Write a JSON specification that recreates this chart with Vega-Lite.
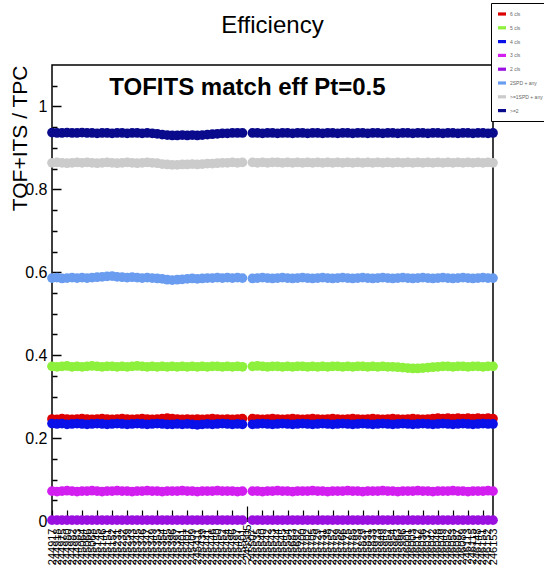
{
  "$schema": "https://vega.github.io/schema/vega-lite/v6.json",
  "autosize": "none",
  "width": 441,
  "height": 456,
  "padding": {"left": 52, "top": 65, "right": 51, "bottom": 47},
  "background": "white",
  "title": {
    "text": "Efficiency",
    "font": "Liberation Sans",
    "fontSize": 24,
    "fontWeight": "normal",
    "color": "black",
    "anchor": "middle",
    "offset": 0,
    "dy": 35
  },
  "config": {
    "view": {"stroke": "black", "strokeWidth": 1.5},
    "axis": {"grid": false, "domain": false}
  },
  "data": {
    "values": [
      {"run": "244917", "s1": 0.246, "s2": 0.373, "s3": 0.235, "s4": 0.072, "s5": 0.002, "s6": 0.586, "s7": 0.864, "s8": 0.937},
      {"run": "244918", "s1": 0.245, "s2": 0.372, "s3": 0.234, "s4": 0.071, "s5": 0.002, "s6": 0.587, "s7": 0.865, "s8": 0.936},
      {"run": "244975", "s1": 0.247, "s2": 0.373, "s3": 0.235, "s4": 0.072, "s5": 0.002, "s6": 0.585, "s7": 0.864, "s8": 0.936},
      {"run": "244980", "s1": 0.246, "s2": 0.374, "s3": 0.233, "s4": 0.073, "s5": 0.002, "s6": 0.586, "s7": 0.863, "s8": 0.937},
      {"run": "244982", "s1": 0.245, "s2": 0.372, "s3": 0.234, "s4": 0.072, "s5": 0.002, "s6": 0.587, "s7": 0.864, "s8": 0.936},
      {"run": "244983", "s1": 0.246, "s2": 0.373, "s3": 0.235, "s4": 0.071, "s5": 0.002, "s6": 0.586, "s7": 0.865, "s8": 0.936},
      {"run": "245064", "s1": 0.247, "s2": 0.372, "s3": 0.234, "s4": 0.072, "s5": 0.002, "s6": 0.587, "s7": 0.864, "s8": 0.937},
      {"run": "245066", "s1": 0.246, "s2": 0.373, "s3": 0.233, "s4": 0.072, "s5": 0.002, "s6": 0.586, "s7": 0.865, "s8": 0.936},
      {"run": "245068", "s1": 0.245, "s2": 0.374, "s3": 0.234, "s4": 0.073, "s5": 0.002, "s6": 0.587, "s7": 0.864, "s8": 0.936},
      {"run": "245145", "s1": 0.246, "s2": 0.373, "s3": 0.235, "s4": 0.072, "s5": 0.002, "s6": 0.588, "s7": 0.863, "s8": 0.935},
      {"run": "245146", "s1": 0.247, "s2": 0.372, "s3": 0.234, "s4": 0.071, "s5": 0.002, "s6": 0.589, "s7": 0.864, "s8": 0.936},
      {"run": "245151", "s1": 0.246, "s2": 0.373, "s3": 0.233, "s4": 0.072, "s5": 0.002, "s6": 0.590, "s7": 0.865, "s8": 0.936},
      {"run": "245152", "s1": 0.245, "s2": 0.373, "s3": 0.234, "s4": 0.072, "s5": 0.002, "s6": 0.591, "s7": 0.864, "s8": 0.935},
      {"run": "245231", "s1": 0.246, "s2": 0.372, "s3": 0.235, "s4": 0.073, "s5": 0.002, "s6": 0.589, "s7": 0.863, "s8": 0.936},
      {"run": "245232", "s1": 0.247, "s2": 0.373, "s3": 0.234, "s4": 0.072, "s5": 0.002, "s6": 0.588, "s7": 0.864, "s8": 0.936},
      {"run": "245259", "s1": 0.246, "s2": 0.372, "s3": 0.233, "s4": 0.072, "s5": 0.002, "s6": 0.587, "s7": 0.865, "s8": 0.935},
      {"run": "245343", "s1": 0.245, "s2": 0.373, "s3": 0.234, "s4": 0.071, "s5": 0.002, "s6": 0.588, "s7": 0.864, "s8": 0.936},
      {"run": "245345", "s1": 0.246, "s2": 0.374, "s3": 0.235, "s4": 0.072, "s5": 0.002, "s6": 0.587, "s7": 0.863, "s8": 0.936},
      {"run": "245346", "s1": 0.247, "s2": 0.373, "s3": 0.234, "s4": 0.072, "s5": 0.002, "s6": 0.586, "s7": 0.864, "s8": 0.935},
      {"run": "245347", "s1": 0.246, "s2": 0.372, "s3": 0.233, "s4": 0.073, "s5": 0.002, "s6": 0.587, "s7": 0.865, "s8": 0.936},
      {"run": "245349", "s1": 0.245, "s2": 0.373, "s3": 0.234, "s4": 0.072, "s5": 0.002, "s6": 0.586, "s7": 0.864, "s8": 0.935},
      {"run": "245353", "s1": 0.246, "s2": 0.372, "s3": 0.235, "s4": 0.072, "s5": 0.002, "s6": 0.585, "s7": 0.863, "s8": 0.934},
      {"run": "245354", "s1": 0.247, "s2": 0.373, "s3": 0.234, "s4": 0.071, "s5": 0.002, "s6": 0.584, "s7": 0.861, "s8": 0.932},
      {"run": "245355", "s1": 0.248, "s2": 0.372, "s3": 0.233, "s4": 0.072, "s5": 0.002, "s6": 0.582, "s7": 0.860, "s8": 0.931},
      {"run": "245396", "s1": 0.247, "s2": 0.373, "s3": 0.233, "s4": 0.072, "s5": 0.002, "s6": 0.581, "s7": 0.859, "s8": 0.930},
      {"run": "245397", "s1": 0.246, "s2": 0.372, "s3": 0.234, "s4": 0.072, "s5": 0.002, "s6": 0.582, "s7": 0.859, "s8": 0.930},
      {"run": "245401", "s1": 0.245, "s2": 0.373, "s3": 0.233, "s4": 0.073, "s5": 0.002, "s6": 0.583, "s7": 0.860, "s8": 0.931},
      {"run": "245407", "s1": 0.246, "s2": 0.372, "s3": 0.234, "s4": 0.072, "s5": 0.002, "s6": 0.584, "s7": 0.860, "s8": 0.930},
      {"run": "245409", "s1": 0.245, "s2": 0.373, "s3": 0.233, "s4": 0.072, "s5": 0.002, "s6": 0.585, "s7": 0.861, "s8": 0.931},
      {"run": "245411", "s1": 0.246, "s2": 0.372, "s3": 0.232, "s4": 0.071, "s5": 0.002, "s6": 0.584, "s7": 0.860, "s8": 0.930},
      {"run": "245439", "s1": 0.245, "s2": 0.373, "s3": 0.233, "s4": 0.072, "s5": 0.002, "s6": 0.585, "s7": 0.861, "s8": 0.931},
      {"run": "245441", "s1": 0.246, "s2": 0.372, "s3": 0.234, "s4": 0.072, "s5": 0.002, "s6": 0.586, "s7": 0.862, "s8": 0.932},
      {"run": "245446", "s1": 0.247, "s2": 0.373, "s3": 0.233, "s4": 0.072, "s5": 0.002, "s6": 0.586, "s7": 0.862, "s8": 0.933},
      {"run": "245450", "s1": 0.246, "s2": 0.373, "s3": 0.234, "s4": 0.073, "s5": 0.002, "s6": 0.587, "s7": 0.863, "s8": 0.934},
      {"run": "245452", "s1": 0.245, "s2": 0.372, "s3": 0.235, "s4": 0.072, "s5": 0.002, "s6": 0.586, "s7": 0.864, "s8": 0.935},
      {"run": "245454", "s1": 0.246, "s2": 0.373, "s3": 0.234, "s4": 0.072, "s5": 0.002, "s6": 0.587, "s7": 0.864, "s8": 0.935},
      {"run": "245496", "s1": 0.245, "s2": 0.372, "s3": 0.233, "s4": 0.072, "s5": 0.002, "s6": 0.586, "s7": 0.865, "s8": 0.936},
      {"run": "245497", "s1": 0.246, "s2": 0.373, "s3": 0.234, "s4": 0.071, "s5": 0.002, "s6": 0.587, "s7": 0.864, "s8": 0.936},
      {"run": "245501", "s1": 0.247, "s2": 0.372, "s3": 0.233, "s4": 0.072, "s5": 0.002, "s6": 0.586, "s7": 0.865, "s8": 0.936},
      {"run": "245504", "s1": null, "s2": null, "s3": null, "s4": null, "s5": null, "s6": null, "s7": null, "s8": null},
      {"run": "245505", "s1": null, "s2": null, "s3": null, "s4": null, "s5": null, "s6": null, "s7": null, "s8": null},
      {"run": "245507", "s1": 0.247, "s2": 0.373, "s3": 0.233, "s4": 0.072, "s5": 0.002, "s6": 0.585, "s7": 0.865, "s8": 0.936},
      {"run": "245535", "s1": 0.246, "s2": 0.374, "s3": 0.234, "s4": 0.072, "s5": 0.002, "s6": 0.586, "s7": 0.864, "s8": 0.936},
      {"run": "245540", "s1": 0.245, "s2": 0.373, "s3": 0.235, "s4": 0.071, "s5": 0.002, "s6": 0.587, "s7": 0.865, "s8": 0.935},
      {"run": "245542", "s1": 0.246, "s2": 0.372, "s3": 0.234, "s4": 0.072, "s5": 0.002, "s6": 0.586, "s7": 0.864, "s8": 0.936},
      {"run": "245543", "s1": 0.247, "s2": 0.373, "s3": 0.233, "s4": 0.072, "s5": 0.002, "s6": 0.585, "s7": 0.865, "s8": 0.936},
      {"run": "245544", "s1": 0.246, "s2": 0.373, "s3": 0.234, "s4": 0.073, "s5": 0.002, "s6": 0.586, "s7": 0.865, "s8": 0.935},
      {"run": "245545", "s1": 0.245, "s2": 0.372, "s3": 0.235, "s4": 0.072, "s5": 0.002, "s6": 0.587, "s7": 0.864, "s8": 0.936},
      {"run": "245554", "s1": 0.246, "s2": 0.373, "s3": 0.234, "s4": 0.072, "s5": 0.002, "s6": 0.586, "s7": 0.865, "s8": 0.936},
      {"run": "245683", "s1": 0.247, "s2": 0.372, "s3": 0.233, "s4": 0.071, "s5": 0.002, "s6": 0.585, "s7": 0.864, "s8": 0.935},
      {"run": "245692", "s1": 0.246, "s2": 0.373, "s3": 0.234, "s4": 0.072, "s5": 0.002, "s6": 0.586, "s7": 0.865, "s8": 0.936},
      {"run": "245700", "s1": 0.245, "s2": 0.373, "s3": 0.235, "s4": 0.072, "s5": 0.002, "s6": 0.587, "s7": 0.864, "s8": 0.936},
      {"run": "245702", "s1": 0.246, "s2": 0.372, "s3": 0.234, "s4": 0.072, "s5": 0.002, "s6": 0.586, "s7": 0.865, "s8": 0.935},
      {"run": "245705", "s1": 0.247, "s2": 0.373, "s3": 0.233, "s4": 0.073, "s5": 0.002, "s6": 0.585, "s7": 0.864, "s8": 0.936},
      {"run": "245729", "s1": 0.246, "s2": 0.372, "s3": 0.234, "s4": 0.072, "s5": 0.002, "s6": 0.586, "s7": 0.865, "s8": 0.936},
      {"run": "245731", "s1": 0.245, "s2": 0.373, "s3": 0.235, "s4": 0.072, "s5": 0.002, "s6": 0.587, "s7": 0.864, "s8": 0.935},
      {"run": "245738", "s1": 0.246, "s2": 0.372, "s3": 0.234, "s4": 0.071, "s5": 0.002, "s6": 0.586, "s7": 0.865, "s8": 0.936},
      {"run": "245752", "s1": 0.247, "s2": 0.373, "s3": 0.233, "s4": 0.072, "s5": 0.002, "s6": 0.585, "s7": 0.864, "s8": 0.936},
      {"run": "245759", "s1": 0.246, "s2": 0.373, "s3": 0.234, "s4": 0.072, "s5": 0.002, "s6": 0.586, "s7": 0.865, "s8": 0.935},
      {"run": "245766", "s1": 0.245, "s2": 0.372, "s3": 0.235, "s4": 0.072, "s5": 0.002, "s6": 0.587, "s7": 0.864, "s8": 0.936},
      {"run": "245775", "s1": 0.246, "s2": 0.373, "s3": 0.234, "s4": 0.073, "s5": 0.002, "s6": 0.586, "s7": 0.865, "s8": 0.936},
      {"run": "245785", "s1": 0.247, "s2": 0.372, "s3": 0.233, "s4": 0.072, "s5": 0.002, "s6": 0.585, "s7": 0.864, "s8": 0.935},
      {"run": "245793", "s1": 0.246, "s2": 0.373, "s3": 0.234, "s4": 0.072, "s5": 0.002, "s6": 0.586, "s7": 0.865, "s8": 0.936},
      {"run": "245829", "s1": 0.245, "s2": 0.373, "s3": 0.235, "s4": 0.071, "s5": 0.002, "s6": 0.587, "s7": 0.864, "s8": 0.936},
      {"run": "245831", "s1": 0.246, "s2": 0.372, "s3": 0.234, "s4": 0.072, "s5": 0.002, "s6": 0.586, "s7": 0.865, "s8": 0.935},
      {"run": "245833", "s1": 0.247, "s2": 0.373, "s3": 0.233, "s4": 0.072, "s5": 0.002, "s6": 0.585, "s7": 0.864, "s8": 0.936},
      {"run": "245923", "s1": 0.246, "s2": 0.372, "s3": 0.234, "s4": 0.072, "s5": 0.002, "s6": 0.586, "s7": 0.865, "s8": 0.936},
      {"run": "245949", "s1": 0.245, "s2": 0.373, "s3": 0.235, "s4": 0.073, "s5": 0.002, "s6": 0.587, "s7": 0.864, "s8": 0.935},
      {"run": "245952", "s1": 0.246, "s2": 0.372, "s3": 0.234, "s4": 0.072, "s5": 0.002, "s6": 0.586, "s7": 0.865, "s8": 0.936},
      {"run": "245954", "s1": 0.247, "s2": 0.372, "s3": 0.233, "s4": 0.072, "s5": 0.002, "s6": 0.585, "s7": 0.864, "s8": 0.936},
      {"run": "245963", "s1": 0.246, "s2": 0.371, "s3": 0.234, "s4": 0.071, "s5": 0.002, "s6": 0.586, "s7": 0.865, "s8": 0.935},
      {"run": "245996", "s1": 0.245, "s2": 0.370, "s3": 0.235, "s4": 0.072, "s5": 0.002, "s6": 0.587, "s7": 0.864, "s8": 0.936},
      {"run": "246001", "s1": 0.246, "s2": 0.369, "s3": 0.234, "s4": 0.072, "s5": 0.002, "s6": 0.586, "s7": 0.865, "s8": 0.936},
      {"run": "246003", "s1": 0.247, "s2": 0.368, "s3": 0.233, "s4": 0.072, "s5": 0.002, "s6": 0.585, "s7": 0.864, "s8": 0.935},
      {"run": "246012", "s1": 0.246, "s2": 0.368, "s3": 0.234, "s4": 0.073, "s5": 0.002, "s6": 0.586, "s7": 0.865, "s8": 0.936},
      {"run": "246036", "s1": 0.245, "s2": 0.369, "s3": 0.235, "s4": 0.072, "s5": 0.002, "s6": 0.587, "s7": 0.864, "s8": 0.936},
      {"run": "246037", "s1": 0.246, "s2": 0.370, "s3": 0.234, "s4": 0.072, "s5": 0.002, "s6": 0.586, "s7": 0.865, "s8": 0.935},
      {"run": "246042", "s1": 0.247, "s2": 0.371, "s3": 0.233, "s4": 0.071, "s5": 0.002, "s6": 0.585, "s7": 0.864, "s8": 0.936},
      {"run": "246048", "s1": 0.248, "s2": 0.372, "s3": 0.234, "s4": 0.072, "s5": 0.002, "s6": 0.586, "s7": 0.865, "s8": 0.936},
      {"run": "246049", "s1": 0.247, "s2": 0.373, "s3": 0.235, "s4": 0.072, "s5": 0.002, "s6": 0.587, "s7": 0.864, "s8": 0.935},
      {"run": "246052", "s1": 0.248, "s2": 0.373, "s3": 0.234, "s4": 0.072, "s5": 0.002, "s6": 0.586, "s7": 0.865, "s8": 0.936},
      {"run": "246053", "s1": 0.247, "s2": 0.372, "s3": 0.233, "s4": 0.073, "s5": 0.002, "s6": 0.585, "s7": 0.864, "s8": 0.936},
      {"run": "246087", "s1": 0.248, "s2": 0.373, "s3": 0.234, "s4": 0.072, "s5": 0.002, "s6": 0.586, "s7": 0.865, "s8": 0.935},
      {"run": "246089", "s1": 0.247, "s2": 0.373, "s3": 0.235, "s4": 0.072, "s5": 0.002, "s6": 0.587, "s7": 0.864, "s8": 0.936},
      {"run": "246113", "s1": 0.248, "s2": 0.372, "s3": 0.234, "s4": 0.071, "s5": 0.002, "s6": 0.586, "s7": 0.865, "s8": 0.936},
      {"run": "246115", "s1": 0.247, "s2": 0.373, "s3": 0.233, "s4": 0.072, "s5": 0.002, "s6": 0.585, "s7": 0.864, "s8": 0.935},
      {"run": "246148", "s1": 0.248, "s2": 0.373, "s3": 0.234, "s4": 0.072, "s5": 0.002, "s6": 0.586, "s7": 0.865, "s8": 0.936},
      {"run": "246151", "s1": 0.247, "s2": 0.372, "s3": 0.235, "s4": 0.072, "s5": 0.002, "s6": 0.587, "s7": 0.864, "s8": 0.936},
      {"run": "246152", "s1": 0.248, "s2": 0.373, "s3": 0.234, "s4": 0.073, "s5": 0.002, "s6": 0.586, "s7": 0.865, "s8": 0.935},
      {"run": "246153", "s1": 0.247, "s2": 0.373, "s3": 0.234, "s4": 0.072, "s5": 0.002, "s6": 0.586, "s7": 0.864, "s8": 0.936}
    ]
  },
  "layer": [
    {
      "transform": [
        {"fold": ["s1", "s2", "s3", "s4", "s5", "s6", "s7", "s8"], "as": ["series", "eff"]}
      ],
      "mark": {"type": "circle", "size": 95, "opacity": 1, "clip": false, "invalid": "break-paths-show-domains"},
      "encoding": {
        "x": {
          "field": "run",
          "type": "ordinal",
          "sort": null,
          "scale": {"type": "point", "padding": 0},
          "axis": {
            "title": null,
            "labelAngle": 270,
            "labelFont": "Liberation Sans",
            "labelFontSize": 11,
            "labelColor": "black",
            "labelOverlap": false,
            "labelPadding": 18,
            "tickSize": {"condition": {"test": "round(datum.index * 89) === 39", "value": -15}, "value": -11},
            "tickOpacity": {"condition": {"test": "round(datum.index * 89) % 3 === 0", "value": 1}, "value": 0},
            "tickColor": "black",
            "tickWidth": 1.2
          }
        },
        "y": {
          "field": "eff",
          "type": "quantitative",
          "scale": {"domain": [0, 1.1], "nice": false, "zero": false},
          "axis": {
            "title": "TOF+ITS / TPC",
            "titleFont": "Liberation Sans",
            "titleFontSize": 21,
            "titleFontWeight": "normal",
            "titleColor": "black",
            "titleAnchor": "end",
            "titlePadding": -6,
            "values": [0, 0.2, 0.4, 0.6, 0.8, 1],
            "format": "~g",
            "labelFont": "Liberation Sans",
            "labelFontSize": 16,
            "labelColor": "black",
            "labelPadding": 14,
            "tickSize": -9,
            "tickColor": "black",
            "tickWidth": 1.5
          }
        },
        "color": {
          "field": "series",
          "type": "nominal",
          "scale": {
            "domain": ["s1", "s2", "s3", "s4", "s5", "s6", "s7", "s8"],
            "range": ["#dd0000", "#8df03c", "#0a10e8", "#d21ff0", "#9a10e0", "#6a9cf0", "#cbcbcb", "#0a0a8c"]
          },
          "legend": {
            "orient": "none",
            "legendX": 439,
            "legendY": -62,
            "title": null,
            "labelExpr": "['6 cls', '5 cls', '4 cls', '3 cls', '2 cls', '2SPD + any', '>=1SPD + any', '>=2'][indexof(['s1', 's2', 's3', 's4', 's5', 's6', 's7', 's8'], datum.label)]",
            "symbolType": "M-1,-0.4H1V0.4H-1Z",
            "symbolSize": 64,
            "symbolStrokeWidth": 0,
            "symbolOpacity": 1,
            "labelFont": "Liberation Sans",
            "labelFontSize": 5,
            "labelColor": "#666666",
            "labelOffset": 4,
            "rowPadding": 6.8,
            "padding": 7,
            "strokeColor": "black",
            "fillColor": "white"
          }
        },
        "order": {"field": "series", "sort": "ascending"}
      }
    },
    {
      "data": {"values": [{"run": "245505", "eff": 1.045, "label": "TOFITS match eff Pt=0.5"}]},
      "mark": {"type": "text", "font": "Liberation Sans", "fontSize": 24, "fontWeight": "bold", "color": "black", "align": "center", "baseline": "middle"},
      "encoding": {
        "x": {"field": "run", "type": "ordinal"},
        "y": {
          "field": "eff",
          "type": "quantitative",
          "axis": {
            "orient": "left",
            "title": null,
            "labels": false,
            "values": [0.05, 0.1, 0.15, 0.25, 0.3, 0.35, 0.45, 0.5, 0.55, 0.65, 0.7, 0.75, 0.85, 0.9, 0.95, 1.05],
            "tickSize": -5,
            "tickColor": "black",
            "tickWidth": 1.5
          }
        },
        "text": {"field": "label"}
      }
    }
  ],
  "resolve": {"axis": {"y": "independent"}}
}
